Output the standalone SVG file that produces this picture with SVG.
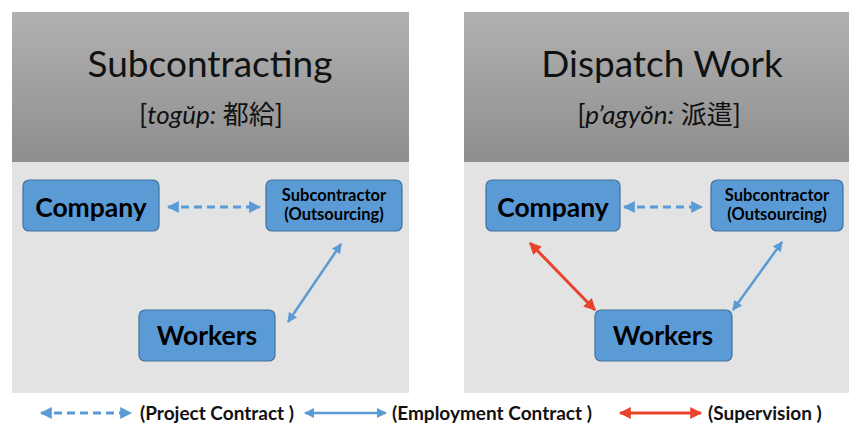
<svg xmlns="http://www.w3.org/2000/svg" width="849" height="425" viewBox="0 0 849 425">
  <defs>
    <linearGradient id="hdr" x1="0" y1="0" x2="0" y2="1">
      <stop offset="0" stop-color="#b1b1b1"/>
      <stop offset="1" stop-color="#8e8e8e"/>
    </linearGradient>
    <marker id="ahBlue" viewBox="0 0 10 10" refX="9" refY="5" markerWidth="4" markerHeight="4" orient="auto-start-reverse" markerUnits="strokeWidth">
      <path d="M0,0 L10,5 L0,10 z" fill="#5b9bd5"/>
    </marker>
    <marker id="ahRed" viewBox="0 0 10 10" refX="9" refY="5" markerWidth="4" markerHeight="4" orient="auto-start-reverse" markerUnits="strokeWidth">
      <path d="M0,0 L10,5 L0,10 z" fill="#e8432d"/>
    </marker>
    <style>
      .hdr { fill: url(#hdr); }
      .body { fill: #e3e3e3; }
      .title { font-family: Lato, "Open Sans", sans-serif; font-size: 37px; fill: #111; text-anchor: middle; }
      .sub { font-family: Lato, "Noto Sans CJK KR", sans-serif; font-size: 26px; fill: #111; text-anchor: middle; }
      .cjk { font-family: "Noto Sans CJK KR", "Noto Sans CJK TC", sans-serif; font-style: normal; font-size: 26px; }
      .node rect { fill: #5b9bd5; stroke: #41719c; stroke-width: 1.2; }
      .node text { font-family: Lato, "Open Sans", sans-serif; font-weight: bold; fill: #000; text-anchor: middle; }
      .big { font-size: 26.5px; }
      .small { font-size: 16.5px; }
      .proj { stroke: #5b9bd5; stroke-width: 3; stroke-dasharray: 8 5; fill: none; marker-start: url(#ahBlue); marker-end: url(#ahBlue); }
      .emp { stroke: #5b9bd5; stroke-width: 2.5; fill: none; marker-start: url(#ahBlue); marker-end: url(#ahBlue); }
      .sup { stroke: #e8432d; stroke-width: 3; fill: none; marker-start: url(#ahRed); marker-end: url(#ahRed); }
      .legend { font-family: Lato, "Open Sans", sans-serif; font-weight: bold; font-size: 19px; fill: #111; }
    </style>
  </defs>

  <rect width="849" height="425" fill="#ffffff"/>

  <!-- left panel: subcontracting -->
  <g id="panel-subcontracting">
    <rect class="hdr" x="12" y="12" width="397" height="150"/>
    <rect class="body" x="12" y="162" width="397" height="231"/>
    <text class="title" x="210" y="77">Subcontracting</text>
    <text class="sub" x="211" y="124">[<tspan font-style="italic">togŭp:</tspan> <tspan class="cjk">都給</tspan>]</text>
  </g>

  <!-- right panel: dispatch work -->
  <g id="panel-dispatch">
    <rect class="hdr" x="464" y="12" width="397" height="150"/>
    <rect class="body" x="464" y="162" width="397" height="231"/>
    <text class="title" x="662" y="77">Dispatch Work</text>
    <text class="sub" x="659" y="124">[<tspan font-style="italic">p’agyŏn:</tspan> <tspan class="cjk">派遣</tspan>]</text>
  </g>

  <!-- nodes -->
  <g id="company-left" class="node">
    <rect x="23" y="180" width="136" height="51" rx="6"/>
    <text class="big" x="91" y="217">Company</text>
  </g>
  <g id="subcontractor-left" class="node">
    <rect x="266" y="180" width="136" height="51" rx="6"/>
    <text class="small" x="334" y="201">Subcontractor</text>
    <text class="small" x="334" y="220">(Outsourcing)</text>
  </g>
  <g id="workers-left" class="node">
    <rect x="139" y="310" width="136" height="51" rx="6"/>
    <text class="big" x="207" y="345">Workers</text>
  </g>
  <g id="company-right" class="node">
    <rect x="486" y="180" width="134" height="51" rx="6"/>
    <text class="big" x="553" y="217">Company</text>
  </g>
  <g id="subcontractor-right" class="node">
    <rect x="711" y="180" width="132" height="51" rx="6"/>
    <text class="small" x="777" y="201">Subcontractor</text>
    <text class="small" x="777" y="220">(Outsourcing)</text>
  </g>
  <g id="workers-right" class="node">
    <rect x="595" y="310" width="137" height="51" rx="6"/>
    <text class="big" x="663" y="345">Workers</text>
  </g>

  <!-- connectors -->
  <g id="connectors">
    <line class="proj" x1="168" y1="207" x2="260" y2="207"/>
    <line class="emp" x1="288" y1="322" x2="341" y2="244"/>
    <line class="proj" x1="624" y1="207" x2="702" y2="207"/>
    <line class="sup" x1="530" y1="243" x2="595" y2="310"/>
    <line class="emp" x1="733" y1="310" x2="782" y2="242"/>
  </g>

  <!-- legend -->
  <g id="legend">
    <line class="proj" x1="41" y1="413" x2="131" y2="413"/>
    <text class="legend" x="140" y="420">(Project Contract )</text>
    <line class="emp" x1="305" y1="413" x2="386" y2="413"/>
    <text class="legend" x="392" y="420">(Employment Contract )</text>
    <line class="sup" x1="620" y1="413" x2="701" y2="413"/>
    <text class="legend" x="708" y="420">(Supervision )</text>
  </g>
</svg>
